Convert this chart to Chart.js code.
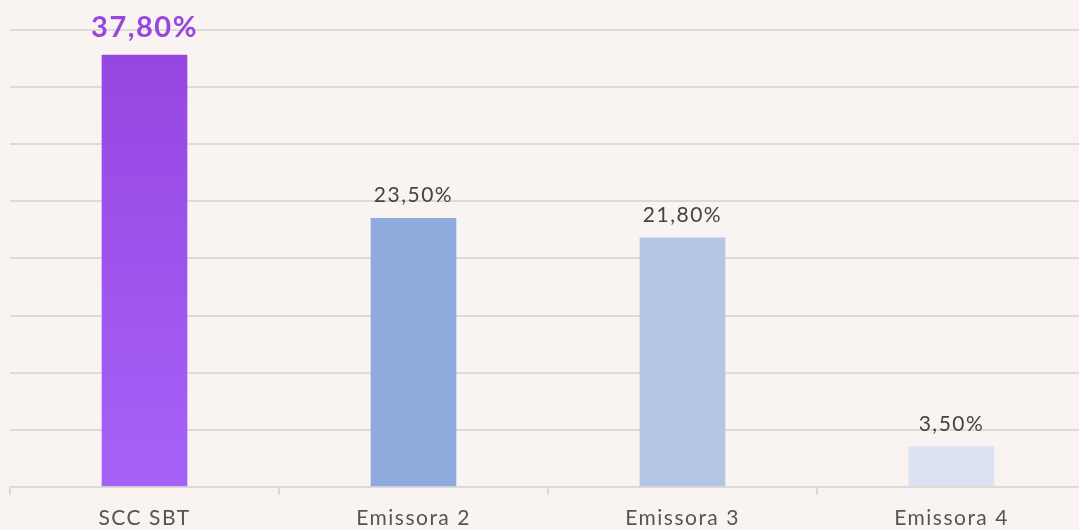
<!DOCTYPE html>
<html>
<head>
<meta charset="utf-8">
<script src="https://cdn.jsdelivr.net/npm/chart.js@4.4.1/dist/chart.umd.min.js"></script>
<style>
  html, body { margin: 0; padding: 0; background: #f9f4f1; overflow: hidden; }
  #wrap { width: 1086px; height: 542px; position: relative; }
</style>
</head>
<body>
<div id="wrap"><canvas id="c"></canvas></div>
<script>
const categories = ["SCC SBT", "Emissora 2", "Emissora 3", "Emissora 4"];
const values = [37.8, 23.5, 21.8, 3.5];
const valueLabels = ["37,80%", "23,50%", "21,80%", "3,50%"];
const barColors = [null, "#8fabdd", "#b3c6e6", "#dae2f3"];

const FONT = "Lato, 'Noto Sans', sans-serif";

const spacingPlugin = {
  id: 'spacing',
  beforeDraw(chart) { chart.ctx.letterSpacing = '1.5px'; }
};

const labelPlugin = {
  id: 'valueLabels',
  afterDatasetsDraw(chart) {
    const ctx = chart.ctx;
    const meta = chart.getDatasetMeta(0);
    meta.data.forEach((bar, i) => {
      ctx.save();
      ctx.letterSpacing = '1.5px';
      ctx.textAlign = 'center';
      ctx.textBaseline = 'alphabetic';
      if (i === 0) {
        ctx.font = "700 29px " + FONT;
        ctx.fillStyle = '#9747e0';
        ctx.fillText(valueLabels[i], bar.x, bar.y - 18);
      } else {
        ctx.font = "400 21px " + FONT;
        ctx.fillStyle = '#444444';
        ctx.fillText(valueLabels[i], bar.x, bar.y - 16);
      }
      ctx.restore();
    });
  }
};

const chart = new Chart(document.getElementById('c'), {
  type: 'bar',
  data: {
    labels: categories,
    datasets: [{
      data: values,
      backgroundColor: (ctx) => {
        const i = ctx.dataIndex;
        if (i === 0) {
          const area = ctx.chart.chartArea;
          if (!area) return '#9d52ea';
          const g = ctx.chart.ctx.createLinearGradient(0, area.top, 0, area.bottom);
          g.addColorStop(0, '#9545df');
          g.addColorStop(1, '#a662f8');
          return g;
        }
        return barColors[i];
      },
      borderWidth: 0,
      barThickness: 85
    }]
  },
  options: {
    responsive: true,
    maintainAspectRatio: false,
    animation: false,
    layout: { padding: { top: 30, left: 10, right: 0, bottom: 0 } },
    plugins: {
      legend: { display: false },
      tooltip: { enabled: false }
    },
    scales: {
      x: {
        grid: { display: true, drawOnChartArea: false, drawTicks: true, tickLength: 8, color: '#dddad8', lineWidth: 2 },
        border: { display: true, color: '#dddad8', width: 2 },
        ticks: { color: '#555555', font: { family: FONT, size: 21 }, padding: 11 }
      },
      y: {
        min: 0, max: 40,
        ticks: { display: false, stepSize: 5 },
        grid: { color: '#dddad8', lineWidth: 2, drawTicks: false },
        border: { display: false }
      }
    }
  },
  plugins: [spacingPlugin, labelPlugin]
});
</script>
</body>
</html>
